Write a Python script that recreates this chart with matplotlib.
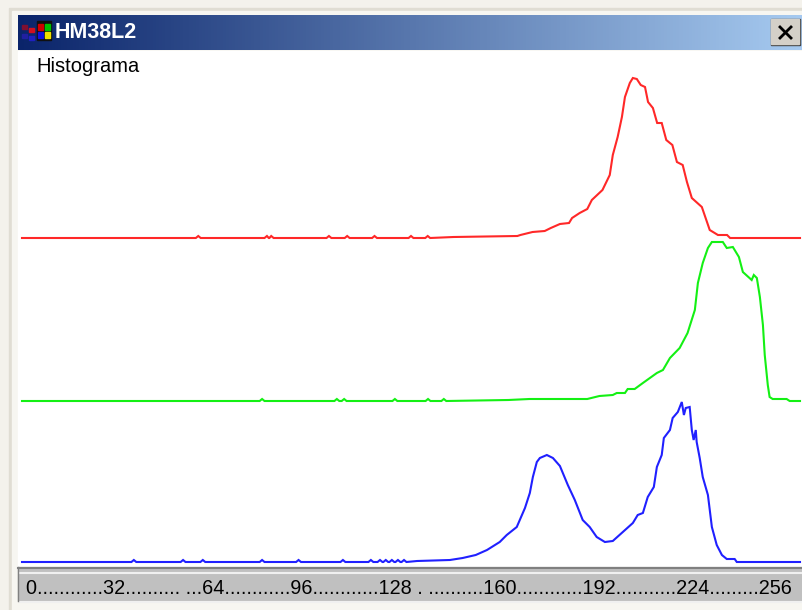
import numpy as np
import matplotlib
matplotlib.use("Agg")
import matplotlib.pyplot as plt
from matplotlib.patches import Rectangle

W, H = 802, 610

### Histogram data (bin, height above baseline)

red_bins = [0, 142, 163, 164, 168, 172, 174, 177, 180, 181, 183.5, 186, 187.5, 191, 193.4, 194.4, 196, 197.4,
            198.4, 200, 201, 202.3, 203.6, 205, 206, 207.6, 209, 210.5, 212, 214, 215.5, 217.4, 218.8, 220.4,
            223.7, 226.3, 229, 232, 233, 256]
red_vals = [0, 1, 2, 3, 6, 7, 10, 14, 15, 20, 25, 29, 38, 48, 63, 83, 101, 121,
            141, 155, 160, 159, 153, 151, 136, 130, 115, 115, 98, 93, 76, 73, 56, 40,
            31, 8, 3, 3, 0, 0]
red_bumps = [58, 80.6, 82, 101, 107, 116, 128, 133.5]

green_bins = [0, 160, 167, 186, 190, 194.4, 195.7, 198.4, 199.3, 201.6, 204.3, 208.9, 210.9, 213.2, 216.4, 219,
              221.4, 222.4, 224, 225.7, 227, 230.6, 231.9, 233.9, 235.9, 237.2, 240.1, 240.8, 241.8, 242.8,
              243.8, 244.4, 245.4, 246, 247, 251.6, 252.6, 256]
green_vals = [0, 1, 2, 2, 5, 6, 8, 8, 12, 12, 18, 28, 31, 43, 53, 68,
              91, 118, 138, 153, 159, 159, 153, 154, 144, 129, 121, 126, 123, 104,
              76, 46, 16, 4, 2, 2, 0, 0]
green_bumps = [79, 103.6, 106, 122.7, 133.6, 138.8]

blue_bins = [0, 130, 140.8, 145, 149.3, 153, 157.2, 159.5, 162.8, 165.5, 167.1, 168.1, 169.4, 170.4, 172.7, 174.7,
             177, 179.6, 181.9, 184.5, 186.8, 189.1, 191.8, 194.4, 197.7, 201, 202.6, 204.3, 205.9, 207.9, 208.9,
             210.5, 211.2, 213.2, 214.1, 215.8, 217.1, 217.8, 218.4, 219.7, 220.4, 221, 221.7, 222, 223, 224,
             225.7, 227, 228.6, 230.3, 231.9, 234.5, 235.2, 256]
blue_vals = [0, 1, 2, 4, 7, 12, 20, 27, 35, 54, 69, 85, 100, 104, 107, 104,
             96, 77, 62, 42, 35, 25, 20, 21, 30, 39, 47, 49, 65, 75, 95,
             107, 124, 132, 144, 150, 160, 147, 154, 155, 132, 122, 132, 120, 104, 85,
             67, 35, 17, 7, 3, 3, 0, 0]
blue_bumps = [36.8, 53, 59.5, 79, 91, 105.6, 114.8, 117.8, 119.7, 121.7, 123.7, 125.7]

axis_text = "0............32.......... ...64............96............128 . ..........160............192...........224.........256"


def merge_bumps(bins, vals, bumps):
    pts = list(zip(bins, vals))
    for b in bumps:
        pts += [(b - 0.8, 0), (b, 2), (b + 0.8, 0)]
    pts.sort()
    return [p[0] for p in pts], [p[1] for p in pts]


def px_box(x0, y0, x1, y1):
    # pixel box (y from the top) -> figure fractions
    return [x0 / W, 1 - y1 / H, (x1 - x0) / W, (y1 - y0) / H]


fig = plt.figure(figsize=(W / 100, H / 100), dpi=100, facecolor="white")
plt.rcParams["font.family"] = ["Liberation Sans", "DejaVu Sans"]

### Window chrome

bg = fig.add_axes([0, 0, 1, 1])
bg.set_xlim(0, W)
bg.set_ylim(H, 0)
bg.axis("off")
bg.add_patch(Rectangle((0, 0), W, H, color="#f4f2ec"))
bg.add_patch(Rectangle((9, 8), W - 9, H - 8, color="#e0ddd3"))
bg.add_patch(Rectangle((12, 11), W - 12, H - 11, color="#f7f6f1"))
bg.add_patch(Rectangle((18, 51), W - 18, 517, color="white"))

grad = np.linspace(0, 1, 256).reshape(1, -1, 1)
c0 = np.array([10, 36, 106]) / 255
c1 = np.array([166, 202, 240]) / 255
bg.imshow(c0 + grad * (c1 - c0), extent=(18, W, 50, 15), aspect="auto", zorder=2)
bg.set_xlim(0, W)
bg.set_ylim(H, 0)

# close button
bg.add_patch(Rectangle((771, 19), 29, 26, color="#404040", zorder=3))
bg.add_patch(Rectangle((771, 19), 28, 25, color="#d4d0c8", zorder=3))
bg.plot([780, 791], [27, 38], color="black", lw=2, zorder=4)
bg.plot([791, 780], [27, 38], color="black", lw=2, zorder=4)

# title icon
bg.add_patch(Rectangle((37, 21), 14, 19, color="#101010", zorder=3))
for x, y, c in [(38, 24, "#d00000"), (45, 24, "#00c000"), (38, 32, "#1010e0"), (45, 32, "#f0e000")]:
    bg.add_patch(Rectangle((x, y), 5, 6, color=c, zorder=4))
for x, y, c in [(22, 25, "#801030"), (29, 28, "#d01020"), (22, 34, "#2020a0"), (29, 36, "#2020c0")]:
    bg.add_patch(Rectangle((x, y), 5, 4, color=c, zorder=4))

bg.text(55, 33, "HM38L2", color="white", fontsize=15.5, fontweight="bold", va="center", zorder=5)
bg.text(36, 66, "Histograma", color="black", fontsize=14.5, va="center", zorder=5)

# status bar
bg.add_patch(Rectangle((18, 567), W - 18, 34, color="#c0c0c0", zorder=2))
bg.plot([18, W], [567.5, 567.5], color="#808080", lw=1.5, zorder=3)
bg.plot([20, W], [573, 573], color="#f0f0f0", lw=1.5, zorder=3)
bg.plot([20, W], [601.5, 601.5], color="#f0f0f0", lw=1.5, zorder=3)
bg.plot([18, 18], [567, 601], color="#808080", lw=1, zorder=3)
bg.text(26, 589, axis_text, color="black", fontsize=14.3, va="center", zorder=5, clip_on=True)

### Histograms

series = [("#ff2828", 238, red_bins, red_vals, red_bumps),
          ("#14f014", 401, green_bins, green_vals, green_bumps),
          ("#2020ff", 562, blue_bins, blue_vals, blue_bumps)]

for color, base, bins, vals, bumps in series:
    ax = fig.add_axes(px_box(22, base - 170, 800, base))
    ax.patch.set_alpha(0)
    ax.axis("off")
    ax.set_xlim(0, 256)
    ax.set_ylim(0, 170)
    xs, ys = merge_bumps(bins, vals, bumps)
    ax.plot(xs, ys, color=color, lw=1.5, clip_on=False, solid_joinstyle="miter")

fig.savefig("out.png", dpi=100)
